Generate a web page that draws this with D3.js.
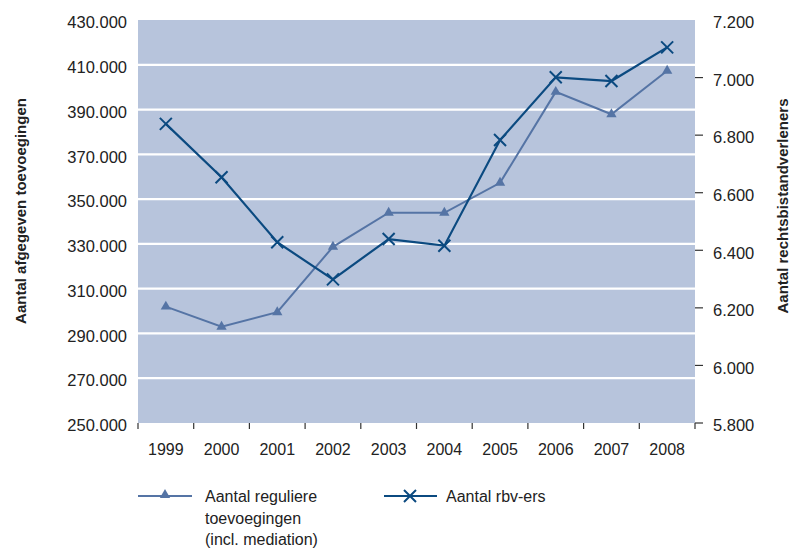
<!DOCTYPE html>
<html>
<head>
<meta charset="utf-8">
<script src="https://cdn.jsdelivr.net/npm/d3@7"></script>
<style>
  body { margin: 0; background: #ffffff; }
  svg { display: block; }
  text { font-family: "Liberation Sans", Arial, Helvetica, sans-serif; fill: #222; }
</style>
</head>
<body>
<svg id="chart" width="799" height="551"></svg>
<script>
const years = ["1999","2000","2001","2002","2003","2004","2005","2006","2007","2008"];
const toevoegingen = [302000, 293000, 299500, 328700, 343900, 343900, 357300, 397900, 387900, 407300];
const rbvErs = [6839, 6654, 6428, 6299, 6439, 6416, 6783, 7001, 6988, 7105];
const leftTicks = [250000, 270000, 290000, 310000, 330000, 350000, 370000, 390000, 410000, 430000];
const rightTicks = [5800, 6000, 6200, 6400, 6600, 6800, 7000, 7200];
const leftTitle = "Aantal afgegeven toevoegingen";
const rightTitle = "Aantal rechtsbistandverleners";
const legendLabels = [["Aantal reguliere", "toevoegingen", "(incl. mediation)"], ["Aantal rbv-ers"]];

const svg = d3.select("#chart");
const m = { left: 138, right: 695, top: 20, bottom: 423 };
const bgColor = "#b7c4dc";
const c1 = "#5574a5";
const c2 = "#0b4a80";

const fmt = v => d3.format(",")(v).replace(/,/g, ".");
const fmtR = v => d3.format(",.0f")(v).replace(/,/g, ".");

const x = d3.scaleBand().domain(years).range([m.left, m.right]);
const yL = d3.scaleLinear().domain([250000, 430000]).range([m.bottom, m.top]);
const yR = d3.scaleLinear().domain([5800, 7200]).range([m.bottom, m.top]);

// plot background
svg.append("rect").attr("x", m.left).attr("y", m.top)
  .attr("width", m.right - m.left).attr("height", m.bottom - m.top).attr("fill", bgColor);

// gridlines
svg.append("g").selectAll("line").data(leftTicks.slice(1, -1)).join("line")
  .attr("x1", m.left).attr("x2", m.right)
  .attr("y1", d => yL(d)).attr("y2", d => yL(d))
  .attr("stroke", "#ffffff").attr("stroke-width", 2.2);

// left axis labels
svg.append("g").selectAll("text").data(leftTicks).join("text")
  .attr("x", m.left - 11).attr("y", d => yL(d)).attr("dy", "0.5em")
  .attr("text-anchor", "end").attr("font-size", 16.5).text(fmt);

// right axis
const gR = svg.append("g");
gR.selectAll("line").data(rightTicks.filter(d => d < 7200)).join("line")
  .attr("x1", m.right).attr("x2", m.right + 8)
  .attr("y1", d => yR(d)).attr("y2", d => yR(d))
  .attr("stroke", "#333").attr("stroke-width", 1.2);
gR.selectAll("text").data(rightTicks).join("text")
  .attr("x", m.right + 18).attr("y", d => yR(d)).attr("dy", "0.5em")
  .attr("text-anchor", "start").attr("font-size", 16.5).text(fmtR);

// x axis ticks and labels
const boundaries = years.map(d => x(d)).concat([x(years[years.length - 1]) + x.bandwidth()]);
svg.append("g").selectAll("line").data(boundaries).join("line")
  .attr("x1", d => d).attr("x2", d => d)
  .attr("y1", m.bottom).attr("y2", m.bottom + 6)
  .attr("stroke", "#333").attr("stroke-width", 1.2);
svg.append("g").selectAll("text").data(years).join("text")
  .attr("x", d => x(d) + x.bandwidth() / 2).attr("y", 455)
  .attr("text-anchor", "middle").attr("font-size", 16).text(d => d);

// axis titles
svg.append("text").attr("transform", `translate(26,211) rotate(-90)`)
  .attr("text-anchor", "middle").attr("font-size", 15).attr("font-weight", "bold").text(leftTitle);
svg.append("text").attr("transform", `translate(788,206) rotate(-90)`)
  .attr("text-anchor", "middle").attr("font-size", 15).attr("font-weight", "bold").text(rightTitle);

const cx = d => x(d) + x.bandwidth() / 2;
const tri = d3.symbol().type(d3.symbolTriangle).size(46);

// series 1
svg.append("path").datum(toevoegingen)
  .attr("fill", "none").attr("stroke", c1).attr("stroke-width", 2)
  .attr("d", d3.line().x((d, i) => cx(years[i])).y(d => yL(d)));
svg.append("g").selectAll("path").data(toevoegingen).join("path")
  .attr("transform", (d, i) => `translate(${cx(years[i])},${yL(d)})`)
  .attr("d", tri).attr("fill", c1);

// series 2
svg.append("path").datum(rbvErs)
  .attr("fill", "none").attr("stroke", c2).attr("stroke-width", 2.2)
  .attr("d", d3.line().x((d, i) => cx(years[i])).y(d => yR(d)));
const xs = 6;
const gx = svg.append("g").selectAll("g").data(rbvErs).join("g")
  .attr("transform", (d, i) => `translate(${cx(years[i])},${yR(d)})`);
gx.append("path").attr("d", `M${-xs},${-xs}L${xs},${xs}M${-xs},${xs}L${xs},${-xs}`)
  .attr("stroke", c2).attr("stroke-width", 2).attr("fill", "none");

// legend
const lg1 = svg.append("g");
lg1.append("line").attr("x1", 138).attr("x2", 192).attr("y1", 496).attr("y2", 496)
  .attr("stroke", c1).attr("stroke-width", 2);
lg1.append("path").attr("transform", "translate(165,495)").attr("d", tri).attr("fill", c1);
lg1.selectAll("text").data(legendLabels[0]).join("text")
  .attr("x", 205).attr("y", (d, i) => 502 + i * 21.5).attr("font-size", 16).text(d => d);

const lg2 = svg.append("g");
lg2.append("line").attr("x1", 384).attr("x2", 437).attr("y1", 496).attr("y2", 496)
  .attr("stroke", c2).attr("stroke-width", 2);
lg2.append("path").attr("d", `M${410 - xs},${496 - xs}L${410 + xs},${496 + xs}M${410 - xs},${496 + xs}L${410 + xs},${496 - xs}`)
  .attr("stroke", c2).attr("stroke-width", 2).attr("fill", "none");
lg2.selectAll("text").data(legendLabels[1]).join("text")
  .attr("x", 446).attr("y", 502).attr("font-size", 16).text(d => d);
</script>
</body>
</html>
